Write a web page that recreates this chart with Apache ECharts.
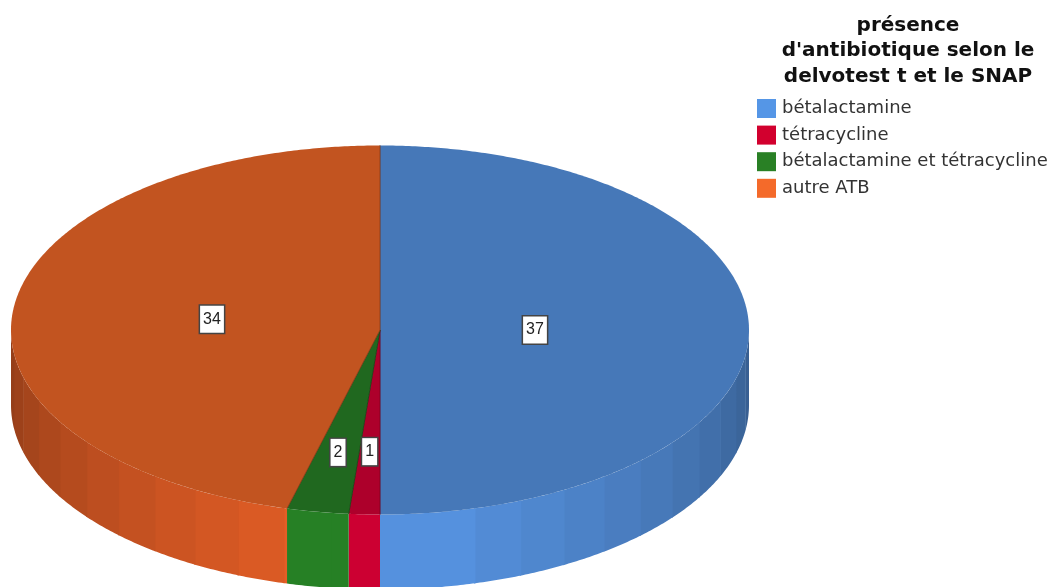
<!DOCTYPE html>
<html><head><meta charset="utf-8">
<style>html,body{margin:0;padding:0;background:#fff}#c{width:1054px;height:587px}</style>
<script src="https://cdn.jsdelivr.net/npm/echarts@6/dist/echarts.min.js"></script>
</head><body><div id="c"></div>
<script>
const chartTitle = "présence\nd'antibiotique selon le\ndelvotest t et le SNAP";
const categories = ['bétalactamine', 'tétracycline', 'bétalactamine et tétracycline', 'autre ATB'];
const counts = [37, 1, 2, 34];
const legendColors = ['#5596E6', '#D2002E', '#298025', '#F46A2A'];
const topColors = ['#4678B8', '#AD002B', '#20681F', '#C25420'];
const sideColors = ['#5591DE', '#CC0032', '#268025', '#E35E26'];
const labelRadii = [0.42, 0.66, 0.673, 0.459];

const CX = 380, CY = 330, RX = 369, RY = 184.5, DEPTH = 75, BAND = 7.5;
const total = counts.reduce((a, b) => a + b, 0);
const rad = d => d * Math.PI / 180;
const px = d => CX + RX * Math.sin(rad(d));
const py = d => CY - RY * Math.cos(rad(d));
function shade(hex, f) {
  const n = parseInt(hex.slice(1), 16);
  const c = [n >> 16, (n >> 8) & 255, n & 255].map(v => Math.round(v * f));
  return 'rgb(' + c.join(',') + ')';
}
function arcPts(a, b, dy) {
  const pts = [], steps = Math.max(2, Math.ceil(Math.abs(b - a) / 0.5));
  for (let i = 0; i <= steps; i++) {
    const t = a + (b - a) * i / steps;
    pts.push([px(t), py(t) + dy]);
  }
  return pts;
}
function renderSlice(idx) {
  return function (params, api) {
    const value = api.value(0);
    const before = counts.slice(0, idx).reduce((a, b) => a + b, 0);
    const start = before / total * 360, end = (before + value) / total * 360;
    const children = [];
    const sStart = Math.max(start, 90), sEnd = Math.min(end, 270);
    if (sEnd > sStart) {
      const bands = [];
      let a = sStart;
      while (a < sEnd - 1e-6) {
        let b = (Math.floor(a / BAND + 1e-6) + 1) * BAND;
        if (b > sEnd) b = sEnd;
        bands.push([a, b]);
        a = b;
      }
      bands.forEach(([p, q]) => {
        const mid = Math.abs((p + q) / 2 - 180);
        const f = mid < 15 ? 1 : 1 - 0.36 * Math.pow((mid - 7.5) / 82.5, 1.1);
        const col = shade(sideColors[idx], f);
        const q2 = Math.min(q + 0.25, sEnd);
        const pts = arcPts(p, q2, 0).concat(arcPts(q2, p, DEPTH));
        children.push({ type: 'polygon', shape: { points: pts }, style: { fill: col } });
      });
    }
    const top = [[CX, CY]].concat(arcPts(start, end, 0));
    children.push({ type: 'polygon', shape: { points: top }, style: { fill: topColors[idx] } });
    const edge = shade(topColors[idx], 0.72);
    children.push({ type: 'polyline', shape: { points: [[px(start), py(start)], [CX, CY], [px(end), py(end)]] },
      style: { fill: 'none', stroke: edge, lineWidth: 1, opacity: 0.8 } });
    const m = (start + end) / 2, r = labelRadii[idx];
    children.push({ type: 'text', z2: 10, style: {
      x: CX + RX * r * Math.sin(rad(m)), y: CY - RY * r * Math.cos(rad(m)),
      text: String(value), align: 'center', verticalAlign: 'middle',
      font: '16px "Liberation Sans", Arial, sans-serif', fill: '#222',
      backgroundColor: '#fff', borderColor: '#444', borderWidth: 1.5, padding: [6, 3, 5, 3]
    } });
    return { type: 'group', children };
  };
}
const chart = echarts.init(document.getElementById('c'), null, { renderer: 'canvas' });
chart.setOption({
  animation: false,
  backgroundColor: '#fff',
  title: {
    text: chartTitle, left: 903, top: 8, textAlign: 'center',
    textStyle: { fontFamily: '"DejaVu Sans", sans-serif', fontSize: 20, fontWeight: 'bold', color: '#111', lineHeight: 25.5 }
  },
  legend: {
    orient: 'vertical', left: 757, top: 99, padding: 0, itemWidth: 19, itemHeight: 19, itemGap: 7.6,
    selectedMode: false, icon: 'rect', data: categories,
    textStyle: { fontFamily: '"DejaVu Sans", sans-serif', fontSize: 18, color: '#333', padding: [6, 0, 0, 1] }
  },
  series: categories.map((name, i) => ({
    type: 'custom', name, coordinateSystem: 'none', silent: true,
    itemStyle: { color: legendColors[i] },
    data: [[counts[i]]],
    renderItem: renderSlice(i)
  }))
});
</script></body></html>
